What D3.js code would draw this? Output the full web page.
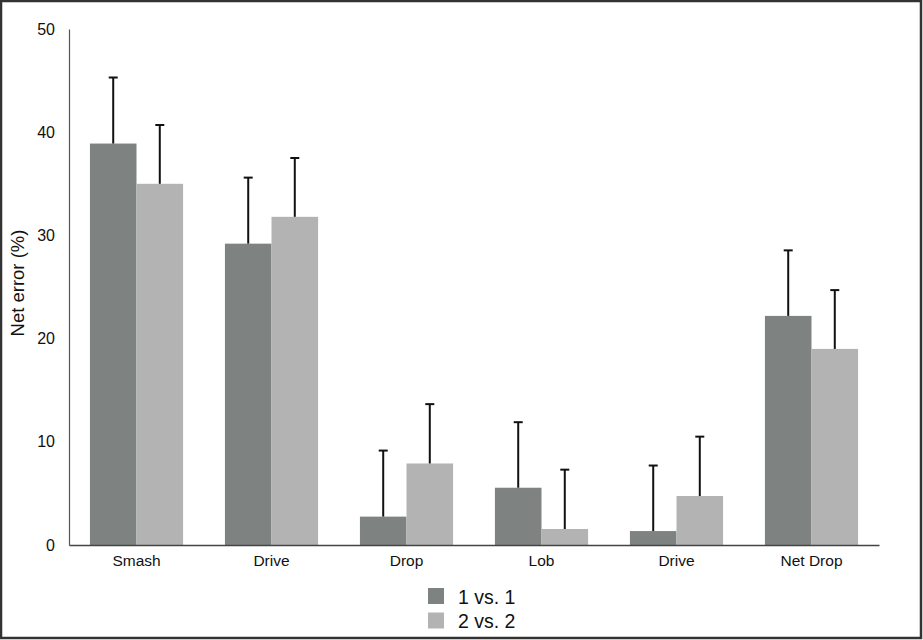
<!DOCTYPE html>
<html>
<head>
<meta charset="utf-8">
<script src="https://cdn.jsdelivr.net/npm/d3@7/dist/d3.min.js"></script>
<style>
  html, body { margin: 0; padding: 0; background: #fff; }
  svg { display: block; font-family: "Liberation Sans", Arial, sans-serif; }
</style>
</head>
<body>
<svg id="chart"></svg>
<script>
"use strict"

const WIDTH = 923;
const HEIGHT = 640;
const MARGIN = { left: 69, right: 44, top: 29, bottom: 95 };

// data
const CATEGORIES = ["Smash", "Drive", "Drop", "Lob", "Drive ", "Net Drop"];
const SERIES = ["1 vs. 1", "2 vs. 2"];
const MEANS_1V1 = [38.9, 29.2, 2.75, 5.55, 1.35, 22.2];
const MEANS_2V2 = [35.0, 31.8, 7.9, 1.55, 4.75, 19.0];
const SD_1V1 = [6.4, 6.4, 6.4, 6.35, 6.35, 6.35];
const SD_2V2 = [5.7, 5.7, 5.75, 5.75, 5.75, 5.7];
const Y_TICKS = [0, 10, 20, 30, 40, 50];
const COLORS = ["#7e8381", "#b3b3b3"];

const svg = d3.select("#chart").attr("width", WIDTH).attr("height", HEIGHT);

// outer frame
svg.append("rect")
    .attr("x", 1).attr("y", 1)
    .attr("width", WIDTH - 3).attr("height", HEIGHT - 3)
    .attr("fill", "none").attr("stroke", "#333").attr("stroke-width", 2.5);

const plotW = WIDTH - MARGIN.left - MARGIN.right;
const plotH = HEIGHT - MARGIN.top - MARGIN.bottom;

const x = d3.scaleBand().domain(CATEGORIES).range([0, plotW]);
const barW = x.bandwidth() * 0.345;
const y = d3.scaleLinear().domain([0, 50]).range([plotH, 0]);

const g = svg.append("g").attr("transform", `translate(${MARGIN.left},${MARGIN.top})`);

// bars
const data = [MEANS_1V1, MEANS_2V2];
const sds = [SD_1V1, SD_2V2];
for (let s = 0; s < 2; ++s) {
    const rows = CATEGORIES.map((c, i) => ({ c: c, v: data[s][i], sd: sds[s][i] }));
    const offset = s === 0 ? -barW : 0;
    g.append("g").selectAll("rect").data(rows).join("rect")
        .attr("x", d => x(d.c) + x.bandwidth() / 2 + offset)
        .attr("y", d => y(d.v))
        .attr("width", barW)
        .attr("height", d => y(0) - y(d.v))
        .attr("fill", COLORS[s]);

    // error bars (upper only)
    const eb = g.append("g").attr("stroke", "#111").attr("stroke-width", 2);
    const cx = d => x(d.c) + x.bandwidth() / 2 + offset + barW / 2;
    eb.selectAll("line.v").data(rows).join("line").attr("class", "v")
        .attr("x1", cx).attr("x2", cx)
        .attr("y1", d => y(d.v)).attr("y2", d => y(d.v + d.sd));
    eb.selectAll("line.c").data(rows).join("line").attr("class", "c")
        .attr("x1", d => cx(d) - 4.5).attr("x2", d => cx(d) + 4.5)
        .attr("y1", d => y(d.v + d.sd)).attr("y2", d => y(d.v + d.sd));
}

// y axis
const yAxis = g.append("g")
    .call(d3.axisLeft(y).tickValues(Y_TICKS).tickSize(0).tickPadding(14));
yAxis.select(".domain").attr("stroke", "#555").attr("stroke-width", 1.2);
yAxis.selectAll("text").attr("font-size", 16).attr("fill", "#111")
    .attr("font-family", "Liberation Sans, Arial, sans-serif");

// x axis
const xAxis = g.append("g").attr("transform", `translate(0,${plotH})`)
    .call(d3.axisBottom(x).tickSize(0).tickPadding(10));
xAxis.select(".domain").attr("stroke", "#444").attr("stroke-width", 1.5);
xAxis.selectAll("text").attr("font-size", 15.5).attr("fill", "#111")
    .attr("font-family", "Liberation Sans, Arial, sans-serif");

// y label
svg.append("text")
    .attr("transform", `translate(24,283) rotate(-90)`)
    .attr("text-anchor", "middle")
    .attr("font-size", 18.5)
    .attr("fill", "#111")
    .text("Net error (%)");

// legend
const legend = svg.append("g").attr("transform", "translate(428,588)");
SERIES.forEach((name, i) => {
    legend.append("rect")
        .attr("x", 0).attr("y", i * 24.5)
        .attr("width", 16).attr("height", 16)
        .attr("fill", COLORS[i]);
    legend.append("text")
        .attr("x", 30).attr("y", i * 24.5 + 15.5)
        .attr("font-size", 19.5).attr("fill", "#111")
        .text(name);
});
</script>
</body>
</html>
